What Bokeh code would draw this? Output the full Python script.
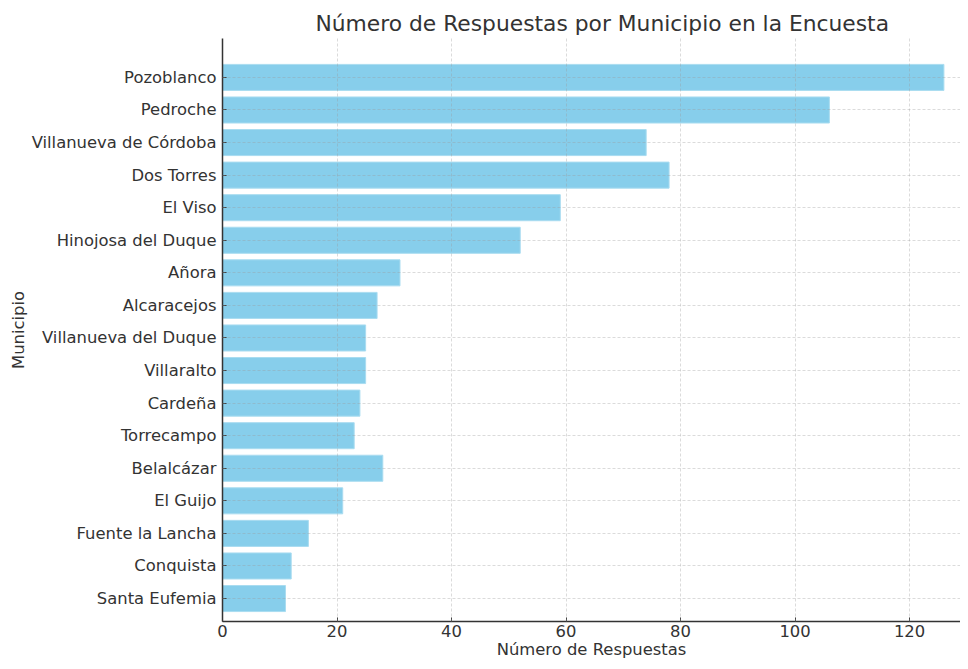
from bokeh.plotting import figure
from bokeh.models import Range1d, FixedTicker
from bokeh.embed import file_html
from bokeh.resources import INLINE

# Data (top to bottom as shown)
municipios = [
    "Pozoblanco", "Pedroche", "Villanueva de Córdoba", "Dos Torres", "El Viso",
    "Hinojosa del Duque", "Añora", "Alcaracejos", "Villanueva del Duque",
    "Villaralto", "Cardeña", "Torrecampo", "Belalcázar", "El Guijo",
    "Fuente la Lancha", "Conquista", "Santa Eufemia",
]
respuestas = [126, 106, 74, 78, 59, 52, 31, 27, 25, 25, 24, 23, 28, 21, 15, 12, 11]
x_ticks = [0, 20, 40, 60, 80, 100, 120]

title_text = "Número de Respuestas por Municipio en la Encuesta"
x_label = "Número de Respuestas"
y_label = "Municipio"

FONT = "DejaVu Sans"
TXT = "#333333"

n = len(municipios)
ys = [n - 1 - i for i in range(n)]

p = figure(
    width=960, height=661,
    x_range=Range1d(0, 128.9), y_range=Range1d(-0.705, 17.195),
    output_backend="svg", toolbar_location=None,
    min_border_left=222, min_border_right=0, min_border_top=38, min_border_bottom=20,
)

p.hbar(y=ys, left=0, right=respuestas, height=0.8,
       fill_color="#87CEEB", line_color="#a9dcf0", line_width=1)

# axes
p.xaxis.ticker = FixedTicker(ticks=x_ticks)
p.yaxis.ticker = FixedTicker(ticks=ys)
p.yaxis.major_label_overrides = {y: m for y, m in zip(ys, municipios)}
for ax in (p.xaxis[0], p.yaxis[0]):
    ax.major_tick_in = 4
    ax.major_tick_out = 0
    ax.minor_tick_in = 0
    ax.minor_tick_out = 0
    ax.axis_line_color = TXT
    ax.axis_line_width = 1.5
    ax.major_tick_line_color = TXT
    ax.major_label_text_font = FONT
    ax.major_label_text_font_size = "16.4px"
    ax.major_label_text_color = TXT
    ax.major_label_standoff = 6
    ax.axis_label_text_font = FONT
    ax.axis_label_text_font_size = "16.4px"
    ax.axis_label_text_font_style = "normal"
    ax.axis_label_text_color = TXT
p.xaxis.major_label_standoff = 3
p.xaxis.axis_label = x_label
p.xaxis.axis_label_standoff = 0
p.yaxis.axis_label = y_label
p.yaxis.axis_label_standoff = 1

p.outline_line_color = None

# grid
for g in (p.xgrid[0], p.ygrid[0]):
    g.grid_line_color = "#999999"
    g.grid_line_alpha = 0.45
    g.grid_line_dash = "3 2"
    g.grid_line_width = 0.8
    g.level = "overlay"
p.xgrid.ticker = FixedTicker(ticks=x_ticks)
p.ygrid.ticker = FixedTicker(ticks=ys)

# title
p.title.text = title_text
p.title.text_font = FONT
p.title.text_font_size = "21.8px"
p.title.text_font_style = "normal"
p.title.text_color = TXT
p.title.align = "left"
p.title.offset = 93
p.title.standoff = 6

open("out.html", "w").write(file_html(p, INLINE))
